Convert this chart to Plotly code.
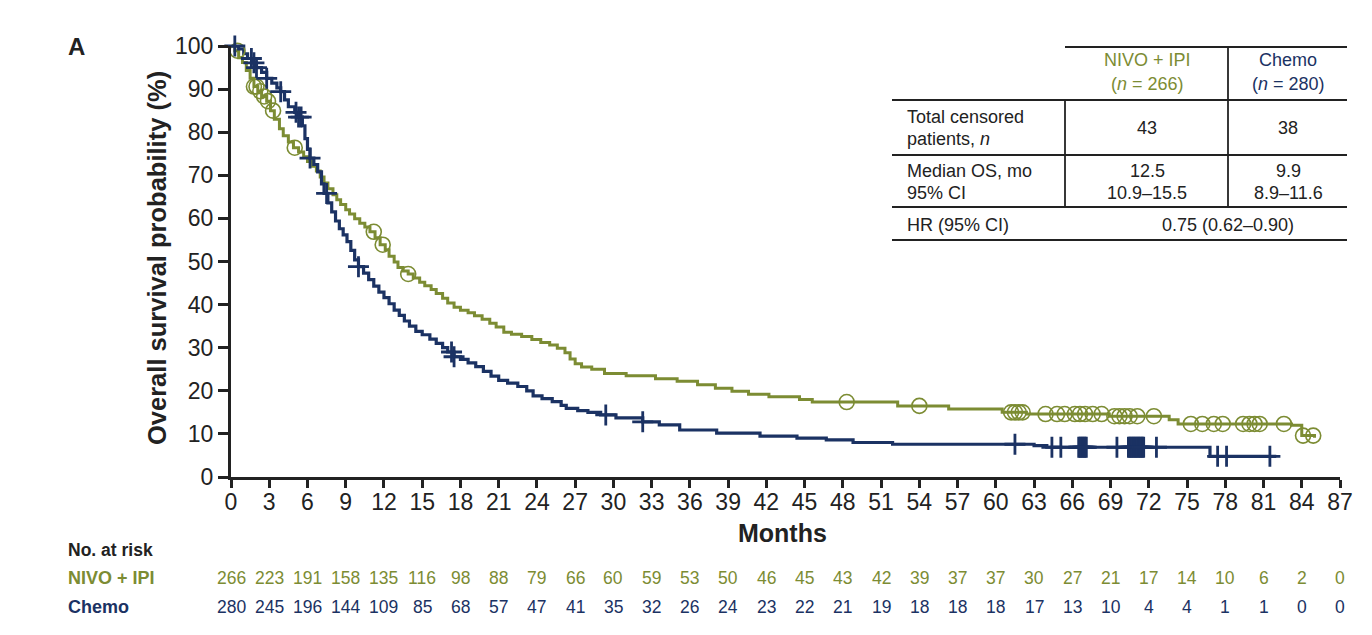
import numpy as np
import plotly.graph_objects as go

# colours
GREEN = "#7c8c33"
NAVY = "#1b3263"
INK = "#222222"

# NIVO + IPI Kaplan-Meier steps (months, survival %)
nivo_t = [0, 0.3, 0.6, 0.9, 1.2, 1.5, 1.8, 2.1, 2.4, 2.8, 3.1, 3.4, 3.8, 4.1, 4.5, 4.9,
          5.3, 5.7, 6.0, 6.4, 6.7, 7.0, 7.3, 7.6, 8.0, 8.3, 8.6, 9.0, 9.3, 9.7, 10.1,
          10.5, 10.9, 11.3, 11.7, 12.1, 12.4, 12.8, 13.1, 13.5, 13.9, 14.3, 14.8, 15.2,
          15.7, 16.1, 16.6, 17.0, 17.5, 18.0, 18.6, 19.1, 19.7, 20.3, 20.8, 21.4, 22.0,
          22.8, 23.6, 24.3, 25.0, 25.6, 26.2, 26.6, 27.0, 27.5, 28.3, 29.3, 31.0, 33.3,
          35.0, 36.6, 38.0, 39.3, 40.6, 42.2, 44.6, 45.6, 52.3, 56.3, 60.5, 62.4, 68.9,
          73.6, 74.3, 83.2, 84.0, 85.0]
nivo_s = [100, 98.9, 97.3, 96.2, 94.3, 92.5, 90.6, 89.5, 88.3, 87.2, 85.0, 83.0, 80.8,
          79.2, 77.7, 76.4, 75.4, 74.3, 73.2, 72.1, 71.0, 69.6, 68.2, 66.9, 65.5, 64.3,
          63.2, 62.0, 61.0, 59.9, 58.9, 58.0, 56.9, 55.5, 53.9, 52.7, 51.2, 49.9, 48.6,
          47.8, 47.1, 46.2, 45.2, 44.4, 43.5, 42.6, 41.5, 40.4, 39.4, 38.7, 38.1, 37.4,
          36.6, 35.7, 34.8, 33.6, 33.1, 32.6, 31.9, 31.2, 30.6, 29.9, 28.8, 27.4, 26.3,
          25.5, 25.0, 24.0, 23.5, 22.8, 22.2, 21.4, 20.6, 19.9, 19.2, 18.6, 18.0, 17.4,
          16.5, 15.8, 15.0, 14.6, 14.1, 13.3, 12.3, 12.0, 9.6, 9.1]
nivo_cens = [0.5, 1.8, 2.0, 2.3, 2.6, 2.9, 3.3, 5.0, 11.2, 11.9, 13.9, 48.3, 54.0,
             61.2, 61.5, 61.8, 62.1, 63.9, 64.8, 65.4, 66.2, 66.6, 67.0, 67.6, 68.3,
             69.3, 69.7, 70.1, 70.5, 71.1, 72.4, 75.3, 76.2, 77.1, 77.8, 79.4, 79.9,
             80.3, 80.7, 82.6, 84.1, 84.9]

# Chemo Kaplan-Meier steps
chemo_t = [0, 0.6, 1.0, 1.3, 1.7, 2.0, 2.4, 2.8, 3.2, 3.6, 3.9, 4.2, 4.5, 5.0, 5.3,
           5.6, 5.8, 6.0, 6.2, 6.5, 6.8, 7.1, 7.3, 7.6, 7.9, 8.2, 8.5, 8.8, 9.1, 9.4,
           9.7, 10.0, 10.4, 10.8, 11.2, 11.6, 12.0, 12.4, 12.8, 13.2, 13.6, 14.0, 14.5,
           15.0, 15.6, 16.1, 16.6, 17.0, 17.5, 18.0, 18.6, 19.2, 19.8, 20.4, 21.0, 21.7,
           22.5, 23.2, 23.7, 24.4, 25.2, 25.9, 26.3, 27.2, 28.0, 29.0, 30.2, 32.3, 33.6,
           35.2, 38.1, 41.5, 44.4, 46.7, 48.8, 51.9, 63.0, 64.0, 76.8, 82.0]
chemo_s = [100, 99.3, 98.2, 97.1, 96.1, 95.0, 93.9, 92.5, 91.4, 90.3, 89.4, 87.5, 85.9,
           84.6, 83.5, 81.5, 78.5, 76.0, 74.0, 72.5, 70.8, 68.0, 65.8, 63.6, 61.5, 59.4,
           57.6, 56.2, 54.6, 52.6, 50.4, 48.8, 47.3, 45.8, 44.3, 42.9, 41.6, 40.2, 38.7,
           37.5, 36.2, 35.0, 33.8, 33.0, 32.0, 31.0, 30.0, 29.0, 27.9, 27.3, 26.5, 25.6,
           24.5, 23.4, 22.4, 21.8, 21.0, 20.0, 18.8, 18.2, 17.5, 16.6, 15.9, 15.4, 15.0,
           14.4, 13.7, 12.8, 12.1, 10.9, 10.2, 9.5, 9.0, 8.6, 8.0, 7.6, 7.3, 6.9, 4.8, 4.8]
chemo_cens = [0.3, 1.6, 1.8, 2.0, 2.8, 3.9, 5.1, 5.3, 5.5, 6.2, 7.5, 10.0, 17.3, 17.5,
              29.4, 32.3, 61.5, 64.4, 65.1, 66.5, 66.6, 66.7, 66.8, 66.9, 67.0, 67.1,
              69.5, 70.4, 70.5, 70.6, 70.7, 70.8, 70.9, 71.0, 71.1, 71.2, 71.3, 71.4,
              71.5, 71.6, 72.6, 77.4, 78.1, 81.5]

# number at risk
risk_t = list(range(0, 88, 3))
risk_nivo = [266, 223, 191, 158, 135, 116, 98, 88, 79, 66, 60, 59, 53, 50, 46, 45, 43,
             42, 39, 37, 37, 30, 27, 21, 17, 14, 10, 6, 2, 0]
risk_chemo = [280, 245, 196, 144, 109, 85, 68, 57, 47, 41, 35, 32, 26, 24, 23, 22, 21,
              19, 18, 18, 18, 17, 13, 10, 4, 4, 1, 1, 0, 0]

FONT = "Liberation Sans, Arial, sans-serif"

# page body has an 8px margin, so the figure is drawn a bit smaller
OFF = 8
W, H = 1372 - 2 * OFF, 635 - 2 * OFF
# plot area in reference pixels
L, R, T, B = 231, 1340, 46, 477


def px(x):
    return (x - L) / (R - L)


def py(y):
    return (B - y) / (B - T)


def step_at(t, s, c):
    t = np.asarray(t)
    s = np.asarray(s)
    idx = np.searchsorted(t, c, side="right") - 1
    return s[idx]


fig = go.Figure()

fig.add_trace(go.Scatter(x=nivo_t, y=nivo_s, mode="lines", line_shape="hv",
                         line=dict(color=GREEN, width=3), cliponaxis=False,
                         showlegend=False))
fig.add_trace(go.Scatter(x=chemo_t, y=chemo_s, mode="lines", line_shape="hv",
                         line=dict(color=NAVY, width=3.2), cliponaxis=False,
                         showlegend=False))
fig.add_trace(go.Scatter(x=nivo_cens, y=step_at(nivo_t, nivo_s, nivo_cens), mode="markers",
                         marker=dict(symbol="circle-open", size=15, color=GREEN,
                                     line=dict(width=1.6, color=GREEN)),
                         cliponaxis=False, showlegend=False))
fig.add_trace(go.Scatter(x=chemo_cens, y=step_at(chemo_t, chemo_s, chemo_cens), mode="markers",
                         marker=dict(symbol="cross-thin", size=15, color=NAVY,
                                     line=dict(width=2.8, color=NAVY)),
                         cliponaxis=False, showlegend=False))


def label(x, y, text, size, color=INK, xanchor="center", xref="paper", angle=0):
    return dict(x=x, y=py(y), xref=xref, yref="paper", text=text, showarrow=False,
                xanchor=xanchor, yanchor="middle", textangle=angle,
                font=dict(size=size, color=color, family=FONT))


ann = []
# axis titles
ann.append(label(px(157), 258, "<b>Overall survival probability (%)</b>", 25.5, angle=-90))
ann.append(label(px(782), 533, "<b>Months</b>", 25))
ann.append(label(px(66), 47, "<b>A</b>", 24, xanchor="left"))

# number at risk
ann.append(label(px(66), 550, "<b>No. at risk</b>", 17.5, xanchor="left"))
ann.append(label(px(66), 578, "<b>NIVO + IPI</b>", 18, GREEN, xanchor="left"))
ann.append(label(px(66), 607, "<b>Chemo</b>", 18, NAVY, xanchor="left"))
for t, a, b in zip(risk_t, risk_nivo, risk_chemo):
    ann.append(label(t, 578, str(a), 17.5, GREEN, xref="x"))
    ann.append(label(t, 607, str(b), 17.5, NAVY, xref="x"))

# summary table
c1, c2, c3 = 1147, 1288, 1228
cells = [
    (c1, 60, "NIVO + IPI", GREEN), (c1, 84, "(<i>n</i> = 266)", GREEN),
    (c2, 60, "Chemo", NAVY), (c2, 84, "(<i>n</i> = 280)", NAVY),
    (c1, 128, "43", INK), (c2, 128, "38", INK),
    (c1, 171, "12.5", INK), (c1, 193, "10.9–15.5", INK),
    (c2, 171, "9.9", INK), (c2, 193, "8.9–11.6", INK),
    (c3, 225, "0.75 (0.62–0.90)", INK),
]
for x, y, txt, col in cells:
    ann.append(label(px(x), y, txt, 18, col))
for y, txt in [(117, "Total censored"), (139, "patients, <i>n</i>"), (171, "Median OS, mo"),
               (193, "95% CI"), (225, "HR (95% CI)")]:
    ann.append(label(px(905), y, txt, 18, xanchor="left"))

shapes = []
for x0, x1, y in [(1065, 1347, 47), (892, 1347, 100), (892, 1347, 155), (892, 1347, 207),
                  (892, 1347, 240)]:
    shapes.append(dict(type="line", xref="paper", yref="paper", x0=px(x0), x1=px(x1),
                       y0=py(y), y1=py(y), line=dict(color=INK, width=1.8)))
for x, y0, y1 in [(1065, 100, 207), (1228, 47, 207)]:
    shapes.append(dict(type="line", xref="paper", yref="paper", x0=px(x), x1=px(x),
                       y0=py(y0), y1=py(y1), line=dict(color=INK, width=1.8)))

fig.update_layout(
    width=W, height=H,
    margin=dict(l=L - OFF, r=W - (R - OFF), t=T - OFF, b=H - (B - OFF)),
    paper_bgcolor="white", plot_bgcolor="white",
    font=dict(family=FONT, color=INK),
    annotations=ann, shapes=shapes,
)
fig.update_xaxes(range=[0, 87], tickvals=risk_t, showline=True, linecolor=INK, linewidth=3,
                 ticks="outside", ticklen=8, tickwidth=3, tickcolor=INK, showgrid=False,
                 zeroline=False, ticklabelstandoff=-6,
                 tickfont=dict(size=23, color=INK, family=FONT))
fig.update_yaxes(range=[0, 100], tickvals=list(range(0, 101, 10)), showline=True, linecolor=INK,
                 linewidth=3, ticks="outside", ticklen=10, tickwidth=3, tickcolor=INK,
                 showgrid=False, zeroline=False, tickfont=dict(size=23, color=INK, family=FONT))

fig.write_html("out.html")
